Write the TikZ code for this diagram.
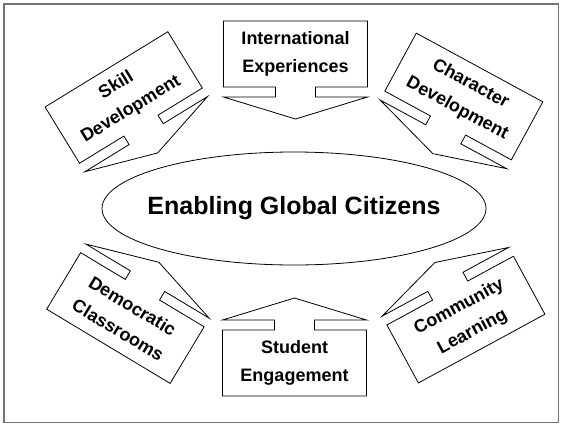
\documentclass[tikz,border=0pt]{standalone}
\usepackage{fontspec}
\setmainfont{Liberation Sans}
\begin{document}
\begin{tikzpicture}[x=1pt,y=-1pt,
  callout/.style={draw,line width=0.8pt},
  boxtext/.style={font=\fontsize{18}{28}\selectfont\bfseries,align=center}]
\useasboundingbox (0,0) rectangle (563,424);
\draw[black!55,line width=1.6pt] (4,4) rectangle (558.5,422.5);
\node[font=\fontsize{25}{30}\selectfont\bfseries] (hub) at (294,208.5) {Enabling Global Citizens};
\draw[line width=0.8pt] (hub.center) ellipse [x radius=192,y radius=56.5];
  \foreach \nm/\cx/\cy/\ang/\dir/\txt in {intl/295.5/54/0/1/{International\\Experiences},
    stud/294.5/363/0/-1/{Student\\Engagement},skill/123.7/97.5/31.5/1/{Skill\\Development},
    chara/463.8/96.5/-28.5/1/{Character\\Development},demo/125.4/318/-31/-1/{Democratic\\Classrooms},
    comm/465.9/319.6/28.5/-1/{Community\\Learning}}
  { \draw[callout,shift={(\cx,\cy)},rotate=\ang] (-72,{-33*(\dir)}) -- (72,{-33*(\dir)}) -- (72,{33*(\dir)})
      -- (20,{33*(\dir)}) -- (20,{43*(\dir)}) -- (72,{43*(\dir)}) -- (0,{65*(\dir)}) -- (-72,{43*(\dir)})
      -- (-20,{43*(\dir)}) -- (-20,{33*(\dir)}) -- (-72,{33*(\dir)}) -- cycle;
    \node[boxtext,rotate=\ang] (\nm) at (\cx,\cy) {\txt};}
\end{tikzpicture}
\end{document}
